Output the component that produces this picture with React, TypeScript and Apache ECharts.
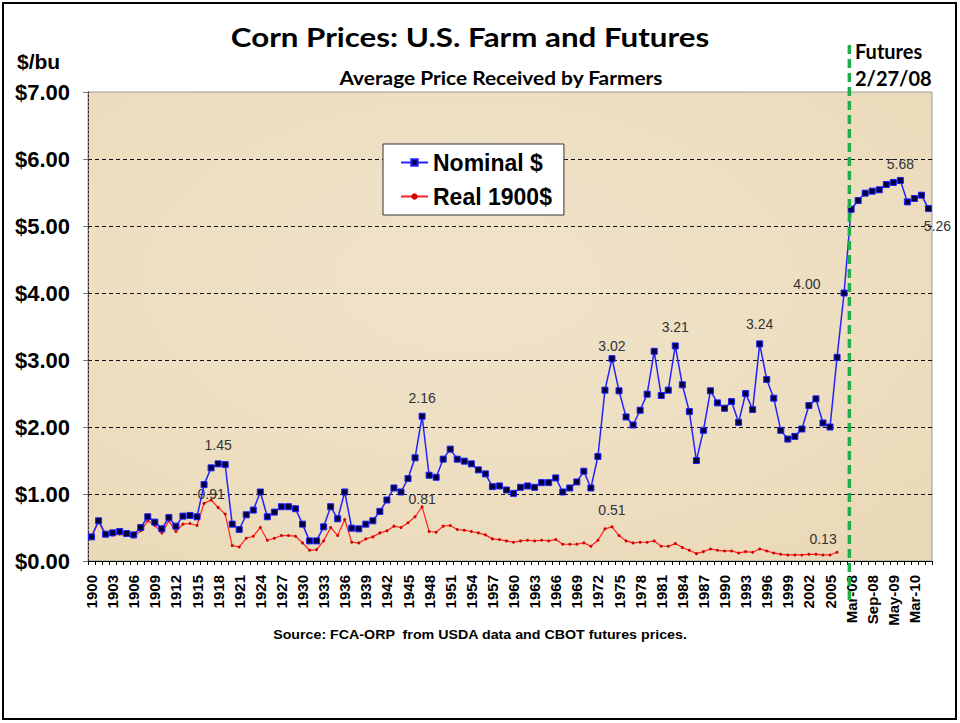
import React, { useEffect, useRef } from "react";
import * as echarts from "echarts";

// ---------- categories ----------
const annualYears: string[] = Array.from({ length: 108 }, (_, i) => String(1900 + i)); // 1900..2007
const futuresMonths: string[] = [
  "Mar-08", "May-08", "Jul-08", "Sep-08", "Dec-08", "Mar-09",
  "May-09", "Jul-09", "Dec-09", "Mar-10", "May-10", "Jul-10",
];
const categories: string[] = [...annualYears, ...futuresMonths];

// ---------- values ($/bu) ----------
// Nominal average price received by farmers, 1900..2007
const nominalAnnual: number[] = [
  0.36, 0.60, 0.40, 0.42, 0.44, 0.41, 0.39, 0.50, 0.66, 0.58, // 1900-1909
  0.48, 0.65, 0.52, 0.67, 0.68, 0.66, 1.14, 1.39, 1.45, 1.44, // 1910-1919
  0.55, 0.47, 0.69, 0.76, 1.03, 0.66, 0.73, 0.81, 0.81, 0.78, // 1920-1929
  0.55, 0.30, 0.30, 0.51, 0.81, 0.63, 1.03, 0.49, 0.48, 0.55, // 1930-1939
  0.60, 0.74, 0.91, 1.09, 1.03, 1.23, 1.54, 2.16, 1.28, 1.25, // 1940-1949
  1.52, 1.67, 1.52, 1.49, 1.45, 1.36, 1.30, 1.11, 1.12, 1.06, // 1950-1959
  1.01, 1.10, 1.12, 1.10, 1.17, 1.17, 1.24, 1.03, 1.09, 1.18, // 1960-1969
  1.34, 1.09, 1.56, 2.55, 3.02, 2.54, 2.15, 2.03, 2.25, 2.49, // 1970-1979
  3.13, 2.47, 2.55, 3.21, 2.63, 2.23, 1.50, 1.95, 2.54, 2.36, // 1980-1989
  2.28, 2.38, 2.07, 2.50, 2.26, 3.24, 2.71, 2.43, 1.95, 1.82, // 1990-1999
  1.86, 1.97, 2.32, 2.42, 2.06, 2.00, 3.04, 4.00,             // 2000-2007
];
// CBOT futures settlement 2/27/08
const nominalFutures: number[] = [5.25, 5.38, 5.49, 5.52, 5.54, 5.62, 5.65, 5.68, 5.36, 5.41, 5.46, 5.26];

// Real (1900 dollars), 1900..2006
const realAnnual: number[] = [
  0.36, 0.59, 0.38, 0.39, 0.40, 0.38, 0.36, 0.45, 0.60, 0.53, // 1900-1909
  0.42, 0.60, 0.44, 0.55, 0.56, 0.53, 0.86, 0.91, 0.80, 0.70, // 1910-1919
  0.23, 0.21, 0.34, 0.37, 0.50, 0.31, 0.34, 0.38, 0.38, 0.37, // 1920-1929
  0.27, 0.16, 0.17, 0.30, 0.50, 0.38, 0.62, 0.28, 0.27, 0.33, // 1930-1939
  0.36, 0.42, 0.45, 0.52, 0.50, 0.57, 0.66, 0.81, 0.44, 0.43, // 1940-1949
  0.52, 0.53, 0.47, 0.46, 0.44, 0.42, 0.39, 0.33, 0.32, 0.30, // 1950-1959
  0.28, 0.30, 0.31, 0.30, 0.31, 0.30, 0.32, 0.25, 0.25, 0.25, // 1960-1969
  0.27, 0.22, 0.31, 0.48, 0.51, 0.38, 0.30, 0.27, 0.28, 0.28, // 1970-1979
  0.30, 0.22, 0.22, 0.26, 0.20, 0.16, 0.11, 0.14, 0.18, 0.16, // 1980-1989
  0.15, 0.15, 0.12, 0.14, 0.13, 0.18, 0.15, 0.12, 0.10, 0.09, // 1990-1999
  0.09, 0.09, 0.10, 0.10, 0.09, 0.09, 0.13,                   // 2000-2006
];

const yTicks: number[] = [0, 1, 2, 3, 4, 5, 6, 7];

// ---------- label styling (which points carry a value label) ----------
const labelFont = { fontFamily: "Liberation Sans, Arial, sans-serif", fontSize: 14, color: "#333" };
const nominalLabelStyle: Record<number, any> = {
  18: { position: "top", distance: 8 },
  47: { position: "top", distance: 8 },
  74: { position: "top", distance: 2 },
  83: { position: "top", distance: 8 },
  95: { position: "top", distance: 9 },
  107: { position: "left", distance: 20, offset: [0, -9] },
  115: { position: "top", distance: 6 },
  119: { position: "bottom", distance: 7, offset: [9, 0] },
};
const realLabelStyle: Record<number, any> = {
  17: { position: "top", distance: -2 },
  47: { position: "top", distance: -1 },
  74: { position: "top", distance: 8 },
  106: { position: "top", distance: 5, offset: [-14, 0] },
};

function withLabels(values: (number | null)[], styles: Record<number, any>) {
  return values.map((v, i) =>
    styles[i]
      ? { value: v, label: { show: true, formatter: (p: any) => Number(p.value).toFixed(2), ...labelFont, ...styles[i] } }
      : v
  );
}

export default function App() {
  const ref = useRef<HTMLDivElement>(null);

  useEffect(() => {
    if (!ref.current) return;
    const chart = echarts.init(ref.current, undefined, { renderer: "svg" });

    const nominalAll = [...nominalAnnual, ...nominalFutures];
    const realAll: (number | null)[] = categories.map((_, i) => (i < realAnnual.length ? realAnnual[i] : null));

    const option: any = {
      animation: false,
      backgroundColor: "#ffffff",
      grid: {
        left: 88,
        right: 28,
        top: 92,
        bottom: 162,
        containLabel: false,
        show: true,
        backgroundColor: {
          type: "radial",
          x: 0.45,
          y: 0.4,
          r: 0.8,
          colorStops: [
            { offset: 0, color: "#F0E3C9" },
            { offset: 0.6, color: "#EDDEC0" },
            { offset: 1, color: "#E9D8B6" },
          ],
        },
        borderColor: "#9a9a9a",
        borderWidth: 1,
      },
      legend: {
        orient: "vertical",
        left: 383,
        top: 144,
        padding: [7, 12, 7, 17],
        itemGap: 11,
        itemWidth: 27,
        itemHeight: 8,
        backgroundColor: "#ffffff",
        borderColor: "#333333",
        borderWidth: 1,
        borderRadius: 0,
        textStyle: {
          fontFamily: "Liberation Sans, Arial, sans-serif",
          fontWeight: "bold",
          fontSize: 23,
          color: "#000",
        },
        data: ["Nominal $", "Real 1900$"],
      },
      xAxis: {
        type: "category",
        data: categories,
        boundaryGap: true,
        axisLine: { show: true, lineStyle: { color: "#000", width: 1 } },
        axisTick: { show: true, interval: 0, length: 4, lineStyle: { color: "#000" } },
        axisLabel: {
          interval: 2,
          rotate: 90,
          margin: 14,
          fontFamily: "Liberation Sans, Arial, sans-serif",
          fontWeight: "bold",
          fontSize: 15,
          color: "#000",
        },
        splitLine: { show: false },
      },
      yAxis: {
        type: "value",
        min: yTicks[0],
        max: yTicks[yTicks.length - 1],
        interval: 1,
        axisLine: { show: true, lineStyle: { color: "#222", width: 1, type: [2, 2] } },
        axisTick: { show: true, length: 5, lineStyle: { color: "#777" } },
        axisLabel: {
          margin: 18,
          formatter: (v: number) => "$" + v.toFixed(2),
          fontFamily: "Liberation Sans, Arial, sans-serif",
          fontWeight: "bold",
          fontSize: 22,
          color: "#000",
        },
        splitLine: {
          show: true,
          showMinLine: false,
          showMaxLine: false,
          lineStyle: { color: "#111", width: 1, type: [4, 3] },
        },
      },
      series: [
        {
          name: "Real 1900$",
          type: "line",
          data: withLabels(realAll, realLabelStyle),
          symbol: "circle",
          symbolSize: 3,
          showAllSymbol: true,
          connectNulls: false,
          lineStyle: { color: "#ff2222", width: 1.2 },
          itemStyle: { color: "#d40000" },
          label: { show: false },
          z: 3,
        },
        {
          name: "Nominal $",
          type: "line",
          data: withLabels(nominalAll, nominalLabelStyle),
          symbol: "rect",
          symbolSize: 6,
          showAllSymbol: true,
          lineStyle: { color: "#2222ff", width: 1.5 },
          itemStyle: { color: "#00003a", borderColor: "#1f1fff", borderWidth: 1 },
          label: { show: false },
          z: 4,
        },
      ],
    };

    chart.setOption(option);

    // Futures divider, placed through the axis between the last annual year and the first contract
    const xFirstFut = chart.convertToPixel({ xAxisIndex: 0 }, futuresMonths[0]) as number;
    const xLastYear = chart.convertToPixel({ xAxisIndex: 0 }, annualYears[annualYears.length - 1]) as number;
    const xDiv = xFirstFut - (xFirstFut - xLastYear) * 0.25;

    chart.setOption({
      graphic: [
        {
          type: "rect",
          shape: { x: 3, y: 3, width: 953, height: 716 },
          style: { fill: "none", stroke: "#000", lineWidth: 2 },
          silent: true,
          z: 0,
        },
        {
          type: "text",
          x: 470,
          y: 36,
          scaleX: 1.16,
          style: {
            text: "Corn Prices: U.S. Farm and Futures",
            fontFamily: "Lato, 'Open Sans', sans-serif",
            fontWeight: "bold",
            fontSize: 27,
            fill: "#000",
            textAlign: "center",
            textVerticalAlign: "middle",
          },
        },
        {
          type: "text",
          x: 501,
          y: 78,
          scaleX: 1.16,
          style: {
            text: "Average Price Received by Farmers",
            fontFamily: "Lato, 'Open Sans', sans-serif",
            fontWeight: "bold",
            fontSize: 18,
            fill: "#000",
            textAlign: "center",
            textVerticalAlign: "middle",
          },
        },
        {
          type: "text",
          x: 17,
          y: 61,
          style: {
            text: "$/bu",
            fontFamily: "Liberation Sans, Arial, sans-serif",
            fontWeight: "bold",
            fontSize: 21,
            fill: "#000",
            textAlign: "left",
            textVerticalAlign: "middle",
          },
        },
        {
          type: "text",
          x: 855,
          y: 51,
          style: {
            text: "Futures",
            fontFamily: "Lato, 'Open Sans', sans-serif",
            fontWeight: "bold",
            fontSize: 20,
            fill: "#000",
            textAlign: "left",
            textVerticalAlign: "middle",
          },
        },
        {
          type: "text",
          x: 855,
          y: 78,
          style: {
            text: "2/27/08",
            fontFamily: "Lato, 'Open Sans', sans-serif",
            fontWeight: "bold",
            fontSize: 20,
            fill: "#000",
            textAlign: "left",
            textVerticalAlign: "middle",
          },
        },
        {
          type: "text",
          x: 480,
          y: 635,
          scaleX: 1.14,
          style: {
            text: "Source: FCA-ORP  from USDA data and CBOT futures prices.",
            fontFamily: "Liberation Sans, Arial, sans-serif",
            fontWeight: "bold",
            fontSize: 12.5,
            fill: "#000",
            textAlign: "center",
            textVerticalAlign: "middle",
          },
        },
        {
          type: "line",
          shape: { x1: xDiv, y1: 45, x2: xDiv, y2: 605 },
          style: { stroke: "#1fae4a", lineWidth: 3.5, lineDash: [9, 5] },
          silent: true,
          z: 100,
        },
      ],
    });

    return () => {
      chart.dispose();
    };
  }, []);

  return (
    <div
      ref={ref}
      style={{ position: "fixed", left: 0, top: 0, width: 960, height: 723 }}
    />
  );
}
